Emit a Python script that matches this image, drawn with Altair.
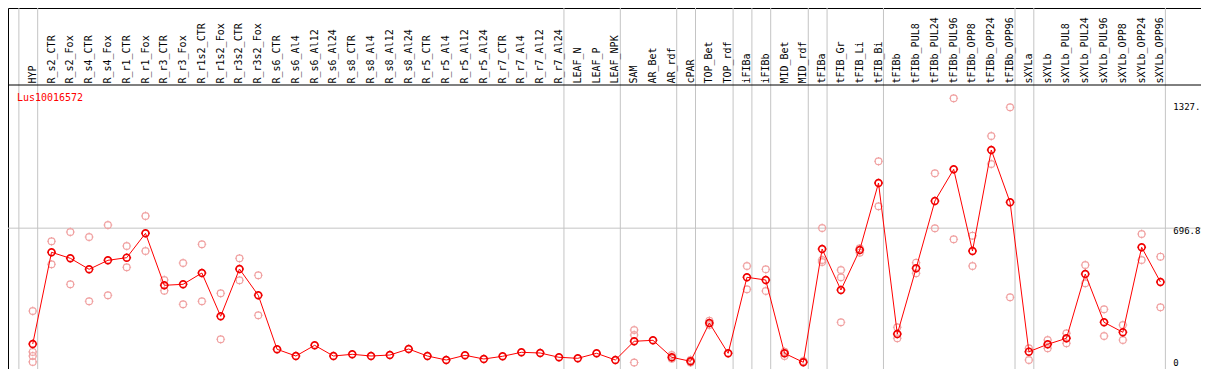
import altair as alt
import pandas as pd

# ---------------- data ----------------
categories = [
    "HYP", "R_s2_CTR", "R_s2_Fox", "R_s4_CTR", "R_s4_Fox", "R_r1_CTR", "R_r1_Fox",
    "R_r3_CTR", "R_r3_Fox", "R_r1s2_CTR", "R_r1s2_Fox", "R_r3s2_CTR", "R_r3s2_Fox",
    "R_s6_CTR", "R_s6_Al4", "R_s6_Al12", "R_s6_Al24", "R_s8_CTR", "R_s8_Al4",
    "R_s8_Al12", "R_s8_Al24", "R_r5_CTR", "R_r5_Al4", "R_r5_Al12", "R_r5_Al24",
    "R_r7_CTR", "R_r7_Al4", "R_r7_Al12", "R_r7_Al24", "LEAF_N", "LEAF_P", "LEAF_NPK",
    "SAM", "AR_Bet", "AR_rdf", "cPAR", "TOP_Bet", "TOP_rdf", "iFIBa", "iFIBb",
    "MID_Bet", "MID_rdf", "tFIBa", "tFIB_Gr", "tFIB_Li", "tFIB_Bi", "tFIBb",
    "tFIBb_PUL8", "tFIBb_PUL24", "tFIBb_PUL96", "tFIBb_OPP8", "tFIBb_OPP24",
    "tFIBb_OPP96", "sXYLa", "sXYLb", "sXYLb_PUL8", "sXYLb_PUL24", "sXYLb_PUL96",
    "sXYLb_OPP8", "sXYLb_OPP24", "sXYLb_OPP96",
]

means = [
    96, 571.6, 540.5, 483.4, 530.1, 543.6, 670.1,
    400.4, 405.6, 464.2, 239.6, 485.0, 348.5,
    68.5, 33.7, 89.2, 33.7, 42.5, 33.7,
    38.9, 70.0, 33.7, 13.0, 37.3, 18.2,
    32.2, 52.9, 49.3, 27.0, 21.8, 47.7, 13.0,
    110.0, 115.1, 27.0, 6.2, 204.9, 47.7, 441.9, 427.9,
    47.7, 1.0, 588.7, 376.0, 583.5, 931.0, 147.8,
    488.6, 837.7, 1002.0, 578.3, 1102.2,
    830.9, 56.0, 94.4, 125.5, 459.0, 208.5,
    156.6, 597.5, 417.5,
]

replicates = [
    [267, 55, 34, 3], [628.6, 509.3], [676.9, 405.6], [650.9, 317.4], [713.2, 348.5],
    [604.3, 493.8], [759.9, 578.3],
    [427.9, 372.4], [516.1, 301.9], [613.1, 317.4], [358.9, 120.3], [540.5, 426.3],
    [452.3, 244.8],
    [], [], [], [], [], [],
    [], [], [], [], [], [],
    [], [], [], [], [], [], [],
    [168.6, 142.6, 0], [], [38.9, 19.7], [13.0, 0], [216.8, 194.5], [], [500.5, 379.7],
    [483.4, 370.9],
    [56.0, 33.7], [7.8], [697.6, 531.6, 521.3], [479.8, 441.9, 208.5], [592.3, 569.5],
    [1043.6, 810.2], [182.6, 125.5],
    [517.6, 462.7], [981.3, 696.1], [1370.3, 639.0], [657.7, 500.5], [1174.8, 1029.6],
    [1323.7, 338.2], [73.7, 13.0], [116.7, 73.7], [151.5, 99.6], [505.7, 410.8],
    [275.9, 137.4],
    [194.5, 116.7], [666.5, 531.6], [548.8, 286.3],
]

group_ends = ["HYP", "R_r7_Al24", "LEAF_NPK", "AR_rdf", "cPAR", "TOP_rdf", "iFIBa",
              "iFIBb", "MID_rdf", "tFIBa", "tFIB_Bi", "tFIBb_OPP96", "sXYLa", "sXYLb_OPP96"]

gene_label = "Lus10016572"
axis_labels = ["1327.", "696.8", "0"]
axis_values = [1327, 696.8, 0]
grid_value = 696.8

# ---------------- layout helpers ----------------
X0, DX = 26.0, 19.0          # reference pixel position of first category, spacing
ZERO_Y, PX_PER_UNIT = 362.5, 0.1928
W, H = 1193, 361


def v_at(ref_y):
    return (ZERO_Y - ref_y) / PX_PER_UNIT


def i_at(ref_x):
    return (ref_x - X0) / DX


xs = alt.Scale(domain=[i_at(1), i_at(1207)], nice=False, zero=False)
ys = alt.Scale(domain=[v_at(369), v_at(8)], nice=False, zero=False)

MONO = "DejaVu Sans Mono"
SEP_OFF = 5 / DX

cat_df = pd.DataFrame({"i": list(range(len(categories))), "name": categories,
                       "mean": means, "hy": v_at(83.5)})
rep_rows = [{"i": k, "v": v} for k, vals in enumerate(replicates) for v in vals]
rep_df = pd.DataFrame(rep_rows)
sep_df = pd.DataFrame({"x": [-1 + SEP_OFF] + [categories.index(g) + SEP_OFF for g in group_ends]})


def X(f):
    return alt.X(f, type="quantitative", scale=xs, axis=None)


def Y(f):
    return alt.Y(f, type="quantitative", scale=ys, axis=None)


vlines = alt.Chart(sep_df).mark_rule(color="#c4c4c4", strokeWidth=1).encode(x=X("x"))
hgrid = alt.Chart(pd.DataFrame({"v": [grid_value]})).mark_rule(
    color="#c4c4c4", strokeWidth=1).encode(y=Y("v"))
hsep = alt.Chart(pd.DataFrame({"v": [v_at(85)]})).mark_rule(
    color="black", strokeWidth=1).encode(y=Y("v"))

headers = alt.Chart(cat_df).mark_text(
    angle=270, align="left", baseline="middle", font=MONO, fontSize=10, color="black"
).encode(x=X("i"), y=Y("hy"), text="name:N")

gene = alt.Chart(pd.DataFrame({"x": [i_at(10)], "y": [v_at(100.7)], "t": [gene_label]})).mark_text(
    align="left", baseline="alphabetic", font=MONO, fontSize=10, color="#ff0000"
).encode(x=X("x"), y=Y("y"), text="t:N")

ax_df = pd.DataFrame({"t": axis_labels, "v": axis_values,
                      "x": [i_at(1179), i_at(1179), i_at(1179)]})
ax_main = alt.Chart(ax_df).transform_filter(alt.datum.v != grid_value).mark_text(
    align="left", baseline="middle", font=MONO, fontSize=9, color="black"
).encode(x=X("x"), y=Y("v"), text="t:N")
ax_grid = alt.Chart(ax_df).transform_filter(alt.datum.v == grid_value).mark_text(
    align="left", baseline="middle", font=MONO, fontSize=9, color="black", dy=3
).encode(x=X("x"), y=Y("v"), text="t:N")

SHAPE = ("M1,0 A1,1 0 1,1 -1,0 A1,1 0 1,1 1,0 Z "
         "M0,-1.3 L0,-0.75 M0,0.75 L0,1.3 M-1.3,0 L-0.75,0 M0.75,0 L1.3,0")

reps = alt.Chart(rep_df).mark_point(
    shape=SHAPE, size=46, filled=False, strokeWidth=1.1, color="#f0a0a0", opacity=1
).encode(x=X("i"), y=Y("v"))

line = alt.Chart(cat_df).mark_line(color="#ff0000", strokeWidth=1).encode(
    x=X("i"), y=Y("mean"), order="i:Q")

pts = alt.Chart(cat_df).mark_point(
    shape=SHAPE, size=46, filled=False, strokeWidth=1.6, color="#f00000", opacity=1
).encode(x=X("i"), y=Y("mean"))

chart = alt.layer(vlines, hgrid, hsep, headers, gene, ax_main, ax_grid, reps, line, pts).properties(
    width=W, height=H, padding=0, background="white",
    autosize=alt.AutoSizeParams(type="none"),
).configure_view(stroke="black", strokeWidth=1)

chart.save("out.html", embed_options={"renderer": "svg", "actions": False})
